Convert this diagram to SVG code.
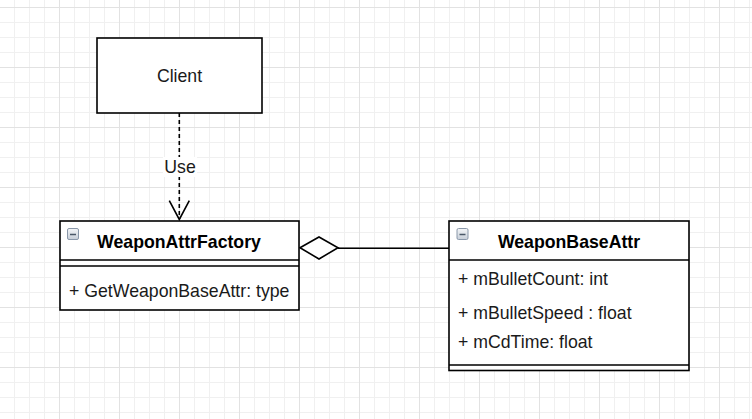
<svg xmlns="http://www.w3.org/2000/svg" width="752" height="419" viewBox="0 0 752 419">
<style>
.box{fill:#fff;stroke:#000;stroke-width:1.6}
.t{font-family:"Liberation Sans",Arial,sans-serif;font-size:17.7px;fill:#1a1a1a}
.b{font-weight:bold;fill:#000}
.ln{stroke:#000;stroke-width:1.6;fill:none}
</style>
<defs>
<pattern id="minor" patternUnits="userSpaceOnUse" x="59" y="7" width="15" height="15">
<path d="M0.5 0V15M0 0.5H15" stroke="#f0f0f0" stroke-width="1"/>
</pattern>
<pattern id="major" patternUnits="userSpaceOnUse" x="59" y="7" width="60" height="60">
<path d="M0.5 0V60M0 0.5H60" stroke="#e2e2e2" stroke-width="1"/>
</pattern>
<linearGradient id="ig" x1="0" y1="0" x2="0" y2="1">
<stop offset="0" stop-color="#f4f6f8"/>
<stop offset="1" stop-color="#c6ced8"/>
</linearGradient>
<g id="icon">
<rect x="0.5" y="0.5" width="11" height="11" rx="1.5" fill="url(#ig)" stroke="#8a98aa" stroke-width="1"/>
<path d="M3 6.5H9" stroke="#4a5868" stroke-width="1.5"/>
</g>
</defs>
<rect width="752" height="419" fill="#fff"/>
<rect width="752" height="419" fill="url(#minor)"/>
<rect width="752" height="419" fill="url(#major)"/>

<g id="connectors">
<path class="ln" d="M179.3 113V219" stroke-dasharray="4 3"/>
<path class="ln" d="M169.3 200.7L179.3 219.5L189.3 200.7"/>
<rect x="163" y="157" width="34" height="20" fill="#fff"/>
<text class="t" x="180" y="173" text-anchor="middle">Use</text>
<path class="ln" d="M338 248.3H449"/>
<path d="M300 247.7L319 237L338 247.7L319 259Z" fill="#fff" stroke="#000" stroke-width="1.6"/>
</g>

<g id="client">
<rect class="box" x="97" y="38" width="165" height="75" stroke="#333"/>
<text class="t" x="179.5" y="82" text-anchor="middle">Client</text>
</g>

<g id="weaponAttrFactory">
<rect class="box" x="60" y="221" width="239" height="89"/>
<path class="ln" d="M60 260H299M60 266H299"/>
<use href="#icon" x="67" y="228"/>
<text class="t b" x="179" y="248" text-anchor="middle">WeaponAttrFactory</text>
<text class="t" x="69" y="297">+ GetWeaponBaseAttr: type</text>
</g>

<g id="weaponBaseAttr">
<rect class="box" x="449" y="221" width="240" height="149.5"/>
<path class="ln" d="M449 260H689M449 365H689"/>
<use href="#icon" x="456.5" y="228"/>
<text class="t b" x="569" y="248" text-anchor="middle">WeaponBaseAttr</text>
<text class="t" x="458" y="285">+ mBulletCount: int</text>
<text class="t" x="458" y="318.5">+ mBulletSpeed : float</text>
<text class="t" x="458" y="348">+ mCdTime: float</text>
</g>
</svg>
